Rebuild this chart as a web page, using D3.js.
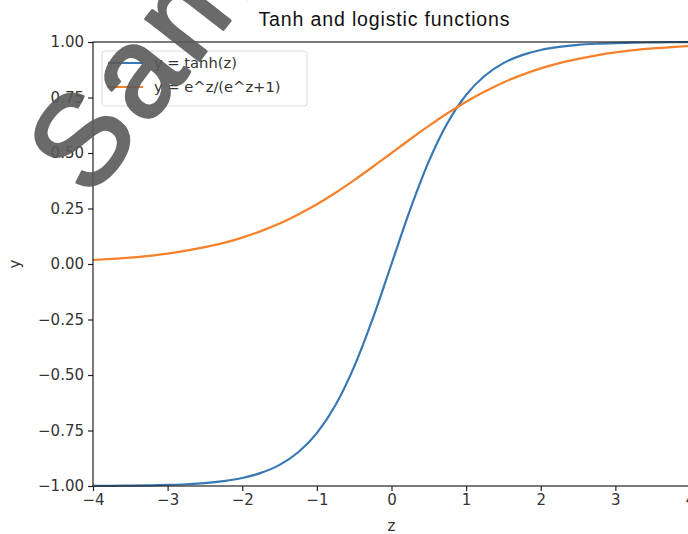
<!DOCTYPE html>
<html>
<head>
<meta charset="utf-8">
<script src="https://cdn.jsdelivr.net/npm/d3@7"></script>
<style>
  body { margin: 0; background: #fff; }
  svg { display: block; }
</style>
</head>
<body>
<div id="chart"></div>
<script>
// values
const zValues = [-4, -3.75, -3.5, -3.25, -3, -2.75, -2.5, -2.25, -2, -1.75, -1.5, -1.25, -1, -0.75, -0.5, -0.25,
  0, 0.25, 0.5, 0.75, 1, 1.25, 1.5, 1.75, 2, 2.25, 2.5, 2.75, 3, 3.25, 3.5, 3.75, 4];
const tanhValues = [-0.999, -0.999, -0.998, -0.997, -0.995, -0.992, -0.987, -0.978, -0.964, -0.941, -0.905, -0.848, -0.762, -0.635, -0.462, -0.245,
  0, 0.245, 0.462, 0.635, 0.762, 0.848, 0.905, 0.941, 0.964, 0.978, 0.987, 0.992, 0.995, 0.997, 0.998, 0.999, 0.999];
const logisticValues = [0.018, 0.023, 0.029, 0.037, 0.047, 0.060, 0.076, 0.095, 0.119, 0.148, 0.182, 0.223, 0.269, 0.321, 0.378, 0.438,
  0.5, 0.562, 0.622, 0.679, 0.731, 0.777, 0.818, 0.852, 0.881, 0.905, 0.924, 0.940, 0.953, 0.963, 0.971, 0.977, 0.982];
const seriesNames = ["y = tanh(z)", "y = e^z/(e^z+1)"];
const xTicks = [-4, -3, -2, -1, 0, 1, 2, 3, 4];
const yTicks = [-1, -0.75, -0.5, -0.25, 0, 0.25, 0.5, 0.75, 1];

const W = 688, H = 534;
const margin = { top: 42, right: -2, bottom: 48, left: 93 };
const width = W - margin.left - margin.right;
const height = H - margin.top - margin.bottom;

const svg = d3.select("#chart").append("svg")
  .attr("width", W)
  .attr("height", H);

const g = svg.append("g")
  .attr("transform", `translate(${margin.left},${margin.top})`);

const x = d3.scaleLinear().domain([-4, 4]).range([0, width]);
const y = d3.scaleLinear().domain([-1, 1]).range([height, 0]);

const tickFont = "'DejaVu Sans', sans-serif";
const tickSize = "15px";

// axes
const xAxis = g.append("g")
  .attr("transform", `translate(0,${height})`)
  .call(d3.axisBottom(x).tickValues(xTicks).tickSize(5).tickPadding(3)
    .tickFormat(d => d < 0 ? "\u2212" + Math.abs(d) : d));
const yAxis = g.append("g")
  .call(d3.axisLeft(y).tickValues(yTicks).tickSize(5).tickPadding(4)
    .tickFormat(d => (d < 0 ? "\u2212" : "") + Math.abs(d).toFixed(2)));

[xAxis, yAxis].forEach(a => {
  a.select(".domain").remove();
  a.selectAll("line").attr("stroke", "#222").attr("stroke-width", 1.2);
  a.selectAll("text").attr("fill", "#333").style("font-family", tickFont).style("font-size", tickSize);
});

// lines
const series = [
  { name: seriesNames[0], color: "#3878b4", values: tanhValues },
  { name: seriesNames[1], color: "#f7812a", values: logisticValues }
];

const line = d3.line()
  .x((d, i) => x(zValues[i]))
  .y(d => y(d))
  .curve(d3.curveMonotoneX);

g.selectAll(".series")
  .data(series)
  .join("path")
  .attr("class", "series")
  .attr("fill", "none")
  .attr("stroke", d => d.color)
  .attr("stroke-width", 2.2)
  .attr("d", d => line(d.values));

// frame
g.append("rect")
  .attr("width", width)
  .attr("height", height)
  .attr("fill", "none")
  .attr("stroke", "#222")
  .attr("stroke-width", 1.2);

// legend
const legend = g.append("g").attr("transform", "translate(9,9)");
legend.append("rect")
  .attr("width", 205)
  .attr("height", 55)
  .attr("rx", 3)
  .attr("fill", "#fff")
  .attr("fill-opacity", 0.8)
  .attr("stroke", "#dcdcdc");
series.forEach((s, i) => {
  const ly = 12 + i * 24;
  legend.append("line")
    .attr("x1", 6).attr("x2", 41)
    .attr("y1", ly).attr("y2", ly)
    .attr("stroke", s.color)
    .attr("stroke-width", 2.2);
  legend.append("text")
    .attr("x", 52).attr("y", ly)
    .attr("dy", "0.35em")
    .style("font-family", tickFont)
    .style("font-size", "14.7px")
    .attr("fill", "#333")
    .text(s.name);
});

// title
svg.append("text")
  .attr("x", 384)
  .attr("y", 26)
  .attr("text-anchor", "middle")
  .style("font-family", "'Liberation Sans', Arial, sans-serif")
  .style("font-size", "19.5px")
  .attr("textLength", 251)
  .attr("fill", "#111")
  .text("Tanh and logistic functions");

// axis labels
svg.append("text")
  .attr("x", margin.left + x(0))
  .attr("y", 531)
  .attr("text-anchor", "middle")
  .style("font-family", tickFont)
  .style("font-size", tickSize)
  .attr("fill", "#333")
  .text("z");

svg.append("text")
  .attr("transform", `translate(20,${margin.top + y(0)}) rotate(-90)`)
  .attr("text-anchor", "middle")
  .style("font-family", tickFont)
  .style("font-size", tickSize)
  .attr("fill", "#333")
  .text("y");

// watermark
svg.append("text")
  .attr("transform", "translate(90,200) rotate(-52)")
  .style("font-family", "'Liberation Sans', Arial, sans-serif")
  .style("font-size", "128px")
  .style("letter-spacing", "6px")
  .attr("fill", "#5a5a5a")
  .attr("stroke", "#5a5a5a")
  .attr("stroke-width", 3)
  .attr("stroke-linejoin", "round")
  .attr("opacity", 0.9)
  .text("Sample");
</script>
</body>
</html>
